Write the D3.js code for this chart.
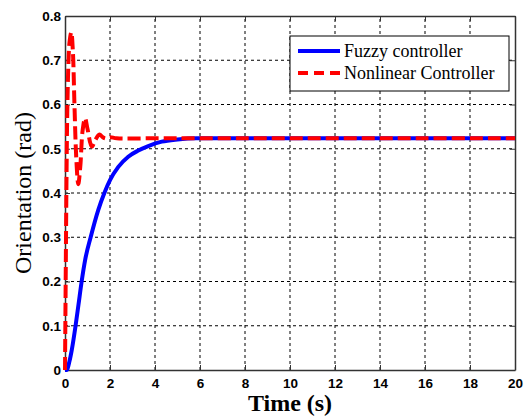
<!DOCTYPE html>
<html>
<head>
<meta charset="utf-8">
<script src="https://cdn.jsdelivr.net/npm/d3@7"></script>
<style>
  body { margin: 0; background: #fff; }
  #viz svg { display: block; }
</style>
</head>
<body>
<div id="viz"></div>
<script>
// values
var xTicks = [0, 2, 4, 6, 8, 10, 12, 14, 16, 18, 20]
var yTicks = [0, 0.1, 0.2, 0.3, 0.4, 0.5, 0.6, 0.7, 0.8]
var yTickLabels = ['0', '0.1', '0.2', '0.3', '0.4', '0.5', '0.6', '0.7', '0.8']

var fuzzyT = [0, 0.07, 0.2, 0.3, 0.47, 0.6, 0.74, 0.9, 1.14, 1.48, 1.75, 2.0, 2.37, 2.81, 3.26, 3.7, 4.3, 5.0, 5.85, 8, 12, 16, 20]
var fuzzyY = [0, 0, 0.02, 0.045, 0.1, 0.148, 0.2, 0.25, 0.3, 0.362, 0.4, 0.429, 0.459, 0.482, 0.496, 0.506, 0.516, 0.521, 0.5236, 0.5236, 0.5236, 0.5236, 0.5236]

var nonlinT = [0, 0.03, 0.07, 0.1, 0.15, 0.2, 0.28, 0.35, 0.42, 0.5, 0.59, 0.68, 0.78, 0.89, 1.0, 1.19, 1.35, 1.53, 1.68, 1.81, 2.0, 2.3, 4, 8, 12, 16, 20]
var nonlinY = [0, 0.2, 0.45, 0.58, 0.69, 0.74, 0.763, 0.72, 0.6, 0.48, 0.42, 0.46, 0.54, 0.569, 0.545, 0.505, 0.52, 0.532, 0.526, 0.523, 0.526, 0.5236, 0.5236, 0.5236, 0.5236, 0.5236, 0.5236]

var seriesNames = ['Fuzzy controller', 'Nonlinear Controller']

const w = 525, h = 416
const m = {top: 16, right: 10, bottom: 46, left: 65}

var svg = d3.select('#viz')
  .append('svg')
  .attr('width', w)
  .attr('height', h)

svg.append('rect').attr('width', w).attr('height', h).attr('fill', '#fff')

var x = d3.scaleLinear().domain([0, 20]).range([m.left, w - m.right])
var y = d3.scaleLinear().domain([0, 0.8]).range([h - m.bottom, m.top])

// grid
var grid = svg.append('g')
grid.selectAll('.vg')
  .data(xTicks.slice(1, -1))
  .enter().append('line')
  .attr('x1', d => x(d)).attr('x2', d => x(d))
  .attr('y1', y(0)).attr('y2', y(0.8))
  .attr('stroke', '#000').attr('stroke-width', 1)
  .attr('stroke-dasharray', '3,3')
grid.selectAll('.hg')
  .data(yTicks.slice(1, -1))
  .enter().append('line')
  .attr('y1', d => y(d)).attr('y2', d => y(d))
  .attr('x1', x(0)).attr('x2', x(20))
  .attr('stroke', '#000').attr('stroke-width', 1)
  .attr('stroke-dasharray', '3,3')

// axes (inward ticks, matlab style)
var tickFont = '"Liberation Sans", Arial, sans-serif'

svg.append('g')
  .attr('transform', 'translate(0,' + y(0) + ')')
  .call(d3.axisBottom(x).tickValues(xTicks).tickSizeInner(-5).tickSizeOuter(0).tickPadding(8).tickFormat(d3.format('d')))
svg.append('g')
  .attr('transform', 'translate(' + x(0) + ',0)')
  .call(d3.axisLeft(y).tickValues(yTicks).tickSizeInner(-5).tickSizeOuter(0).tickPadding(4).tickFormat((d, i) => yTickLabels[i]))
svg.append('g')
  .attr('transform', 'translate(0,' + y(0.8) + ')')
  .call(d3.axisTop(x).tickValues(xTicks).tickSizeInner(-5).tickSizeOuter(0).tickFormat(''))
svg.append('g')
  .attr('transform', 'translate(' + x(20) + ',0)')
  .call(d3.axisRight(y).tickValues(yTicks).tickSizeInner(-5).tickSizeOuter(0).tickFormat(''))

svg.selectAll('.domain').attr('stroke', '#333').attr('stroke-width', 1.5)
svg.selectAll('.tick line').attr('stroke', '#333')
svg.selectAll('.tick text')
  .style('font-family', tickFont)
  .style('font-weight', 'bold')
  .style('font-size', '13.5px')
  .attr('fill', '#000')

// lines
var fuzzy = fuzzyT.map((t, i) => [t, fuzzyY[i]])
var nonlin = nonlinT.map((t, i) => [t, nonlinY[i]])

svg.append('path')
  .datum(fuzzy)
  .attr('d', d3.line().x(d => x(d[0])).y(d => y(d[1])).curve(d3.curveMonotoneX))
  .attr('fill', 'none')
  .attr('stroke', '#0000ff')
  .attr('stroke-width', 4)

svg.append('path')
  .datum(nonlin)
  .attr('d', d3.line().x(d => x(d[0])).y(d => y(d[1])).curve(d3.curveCatmullRom.alpha(0.5)))
  .attr('fill', 'none')
  .attr('stroke', '#ff0000')
  .attr('stroke-width', 4)
  .attr('stroke-dasharray', '13,5')

// legend
var lg = svg.append('g')
lg.append('rect')
  .attr('x', 290).attr('y', 36)
  .attr('width', 219).attr('height', 55)
  .attr('fill', '#fff').attr('stroke', '#000').attr('stroke-width', 1)

var legendColors = ['#0000ff', '#ff0000']
var legendDash = [null, '10,6']
seriesNames.forEach(function (name, i) {
  var ly = 51 + i * 22
  lg.append('line')
    .attr('x1', 298).attr('x2', 340)
    .attr('y1', ly).attr('y2', ly)
    .attr('stroke', legendColors[i])
    .attr('stroke-width', 4)
    .attr('stroke-dasharray', legendDash[i])
  lg.append('text')
    .attr('x', 344).attr('y', ly + 6)
    .style('font-family', '"Liberation Serif", "Times New Roman", serif')
    .style('font-size', '18px')
    .text(name)
})

// axis labels
svg.append('text')
  .attr('x', 290).attr('y', 411)
  .attr('text-anchor', 'middle')
  .style('font-family', '"Liberation Serif", "Times New Roman", serif')
  .style('font-weight', 'bold')
  .style('font-size', '24px')
  .text('Time (s)')

svg.append('text')
  .attr('transform', 'translate(31,193) rotate(-90)')
  .attr('text-anchor', 'middle')
  .style('font-family', '"Liberation Serif", "Times New Roman", serif')
  .style('font-size', '24px')
  .text('Orientation (rad)')
</script>
</body>
</html>
